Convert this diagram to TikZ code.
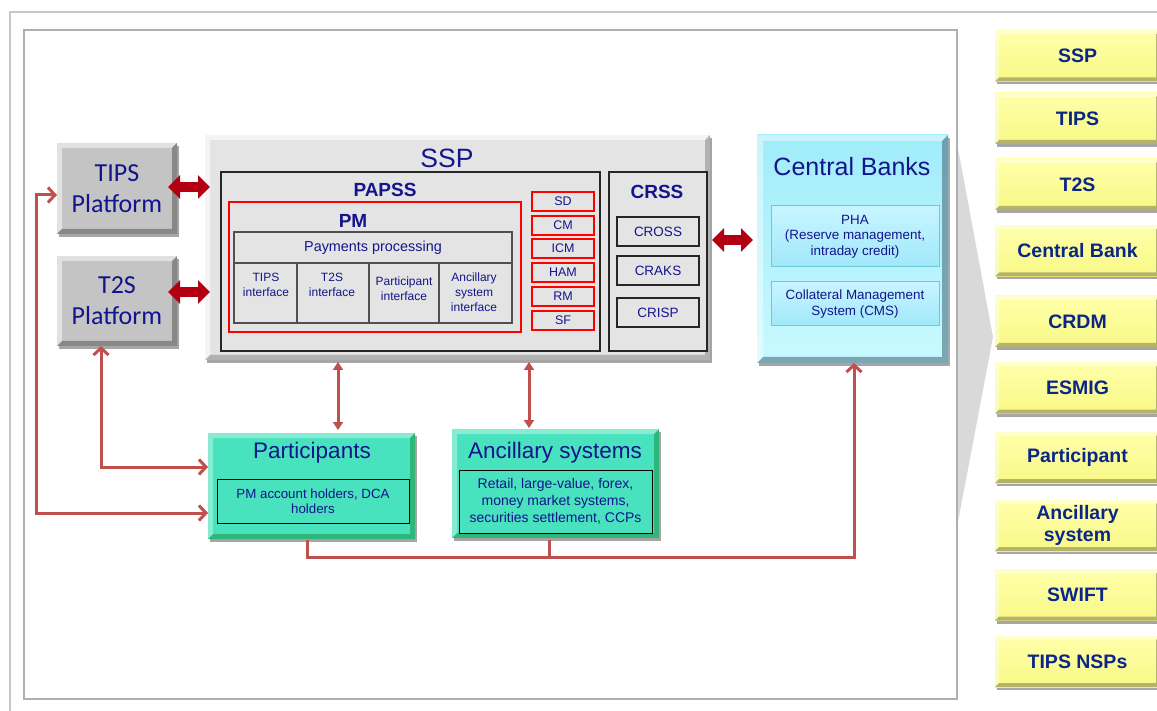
\documentclass[tikz,border=0pt]{standalone}
\usepackage{fontspec}
\setmainfont{Liberation Sans}
\newfontfamily\calfont{Carlito}
\usetikzlibrary{arrows.meta,shadows,calc}
\definecolor{tblue}{RGB}{20,20,140}
\definecolor{rblue}{RGB}{10,38,135}
\definecolor{connred}{RGB}{192,80,77}
\definecolor{blockred}{RGB}{178,0,18}
\definecolor{trapgray}{RGB}{217,217,217}
\definecolor{platfill}{RGB}{196,196,196}
\definecolor{sspfill}{RGB}{228,228,228}
\definecolor{darkline}{RGB}{38,38,38}
\definecolor{cellline}{RGB}{80,80,80}
\definecolor{cbtop}{RGB}{160,236,250}
\definecolor{cbbot}{RGB}{200,250,255}
\definecolor{cbline}{RGB}{110,200,220}
\definecolor{cbintop}{RGB}{200,245,255}
\definecolor{cbinbot}{RGB}{160,232,250}
\definecolor{tealfill}{RGB}{72,226,190}
\definecolor{yfill}{RGB}{248,248,135}
\definecolor{ytop}{RGB}{255,255,170}
\newcommand\fs[2]{\fontsize{#1}{#2}\selectfont}
\newcommand\bev[4]{%
 \fill[#2] (#1.north west) -- (#1.north east) -- ($(#1.north east)+(-#4,#4)$) -- ($(#1.north west)+(#4,#4)$) -- ($(#1.south west)+(#4,-#4)$) -- (#1.south west) -- cycle;
 \fill[#3] (#1.south east) -- (#1.south west) -- ($(#1.south west)+(#4,-#4)$) -- ($(#1.south east)+(-#4,-#4)$) -- ($(#1.north east)+(-#4,#4)$) -- (#1.north east) -- cycle;}
\tikzset{
 every node/.style={inner sep=0pt, outer sep=0pt},
 shad/.style={drop shadow={shadow xshift=2pt, shadow yshift=-3pt, opacity=.35, fill=black}},
 platform/.style={fill=platfill, text=tblue, font=\calfont\fs{26}{31}, align=center, shad},
 sspbox/.style={fill=sspfill, shad},
 darkbox/.style={draw=darkline, line width=2pt, fill=sspfill},
 redbox/.style={draw=red, line width=2pt},
 cell/.style={draw=cellline, line width=2pt, fill=sspfill},
 title/.style={text=tblue, align=center},
 iftxt/.style={text=tblue, align=center, font=\fs{12}{15}},
 smallred/.style={draw=red, line width=2pt, fill=sspfill, text=tblue, font=\fs{12.5}{15}, minimum width=62pt, minimum height=19pt},
 crbox/.style={draw=darkline, line width=2pt, fill=sspfill, text=tblue, font=\fs{13.5}{16}, minimum width=82pt, minimum height=29pt},
 cbbox/.style={top color=cbtop, bottom color=cbbot, shad},
 cbin/.style={draw=cbline, line width=1pt, top color=cbintop, bottom color=cbinbot, text=tblue, align=center, font=\fs{13.4}{15.5}, minimum width=168pt},
 teal/.style={fill=tealfill, shad},
 tealin/.style={draw=black, line width=1pt, text=tblue, align=center},
 ybox/.style={top color=ytop, bottom color=yfill, text=rblue, font=\bfseries\fs{19.5}{22}, align=center, minimum width=165pt, minimum height=51pt, shad},
 conn/.style={draw=connred, line width=3pt},
 barbs/.style={{Straight Barb[length=7pt,width=15pt]}-{Straight Barb[length=7pt,width=15pt]}},
 endbarb/.style={-{Straight Barb[length=7pt,width=15pt]}},
 tris/.style={{Triangle[length=8pt,width=10pt]}-{Triangle[length=8pt,width=10pt]}},
 blockarr/.style={draw=blockred, line width=10pt, {Triangle[length=12pt,width=23pt]}-{Triangle[length=12pt,width=23pt]}}
}
\begin{document}
\begin{tikzpicture}[x=1pt,y=-1pt]
\useasboundingbox (0,0) rectangle (1157,711);
\fill[white] (0,0) rectangle (1157,711);
% grey projection
\fill[trapgray] (957,143) -- (993,337) -- (957,527) -- cycle;
% frames
\draw[draw={rgb,255:red,200;green,200;blue,200}, line width=1.5pt] (10,711) -- (10,12) -- (1157,12);
\draw[draw={rgb,255:red,175;green,175;blue,175}, line width=1.2pt] (24,30) rectangle (957,699);

% right column
\node[ybox] (yssp) at (1077.5,56) {SSP};
\node[ybox] (ytips) at (1077.5,118.5) {TIPS};
\node[ybox] (yt2s) at (1077.5,184.5) {T2S};
\node[ybox] (ycb) at (1077.5,251) {Central Bank};
\node[ybox] (ycrdm) at (1077.5,321.5) {CRDM};
\node[ybox] (yesmig) at (1077.5,388) {ESMIG};
\node[ybox] (ypart) at (1077.5,457.5) {Participant};
\node[ybox] (yanc) at (1077.5,525.5) {Ancillary\\system};
\node[ybox] (yswift) at (1077.5,595) {SWIFT};
\node[ybox] (ynsp) at (1077.5,661.5) {TIPS NSPs};
\foreach \n in {yssp,ytips,yt2s,ycb,ycrdm,yesmig,ypart,yanc,yswift,ynsp}{\bev{\n}{white,opacity=.4}{black!70!yellow,opacity=.45}{4}}

% platforms
\node[platform, minimum width=120pt, minimum height=91pt] (tips) at (117,188.5) {TIPS\\Platform};
\bev{tips}{white,opacity=.5}{black,opacity=.3}{5}
\node[platform, minimum width=120pt, minimum height=90pt] (t2s) at (117,301) {T2S\\Platform};
\bev{t2s}{white,opacity=.5}{black,opacity=.3}{5}

% SSP
\node[sspbox, minimum width=505pt, minimum height=225pt] (ssp) at (457.5,247.5) {};
\bev{ssp}{white,opacity=.6}{black,opacity=.22}{5}
\node[title, font=\fs{26.5}{30}] (ssplbl) at (447,158) {SSP};
\node[darkbox, minimum width=379pt, minimum height=179pt] (papss) at (410.5,261.5) {};
\node[title, font=\bfseries\fs{19}{22}] (papsslbl) at (385,190) {PAPSS};
\node[redbox, minimum width=292pt, minimum height=130pt] (pm) at (375,267) {};
\node[title, font=\bfseries\fs{19}{22}] (pmlbl) at (353,221) {PM};
\node[cell, minimum width=278pt, minimum height=31pt, text=tblue, font=\fs{14.4}{17}] (pp) at (373,247.5) {Payments processing};
\node[cell, minimum width=63pt, minimum height=60pt] (c1) at (265.5,293) {};
\node[cell, minimum width=72pt, minimum height=60pt] (c2) at (333,293) {};
\node[cell, minimum width=70pt, minimum height=60pt] (c3) at (404,293) {};
\node[cell, minimum width=73pt, minimum height=60pt] (c4) at (475.5,293) {};
\node[iftxt] (c1t) at (266,285) {TIPS\\interface};
\node[iftxt] (c2t) at (332,285) {T2S\\interface};
\node[iftxt] (c3t) at (404,288.5) {Participant\\interface};
\node[iftxt] (c4t) at (474,292.5) {Ancillary\\system\\interface};
\node[smallred] (sd) at (563,201.5) {SD};
\node[smallred] (cm) at (563,225.5) {CM};
\node[smallred] (icm) at (563,248.5) {ICM};
\node[smallred] (ham) at (563,272.5) {HAM};
\node[smallred] (rm) at (563,296.5) {RM};
\node[smallred] (sf) at (563,320.5) {SF};
\node[darkbox, minimum width=98pt, minimum height=179pt] (crss) at (658,261.5) {};
\node[title, font=\bfseries\fs{19}{22}] (crsslbl) at (657,192) {CRSS};
\node[crbox] (cross) at (658,231.5) {CROSS};
\node[crbox] (craks) at (658,271) {CRAKS};
\node[crbox] (crisp) at (658,313) {CRISP};

% Central banks
\node[cbbox, minimum width=191pt, minimum height=228pt] (cb) at (852.5,249) {};
\bev{cb}{white,opacity=.45}{black!55!cyan,opacity=.6}{6}
\node[title, font=\fs{25}{29}] (cblbl) at (852,167) {Central Banks};
\node[cbin, minimum height=61pt] (pha) at (855,236.5) {PHA\\(Reserve management,\\intraday credit)};
\node[cbin, minimum height=44pt] (cms) at (855,304) {Collateral Management\\System (CMS)};

% participants / ancillary
\node[teal, minimum width=207pt, minimum height=106pt] (part) at (311.5,486) {};
\bev{part}{white,opacity=.35}{black!60!green,opacity=.35}{5}
\node[title, font=\fs{22.5}{26}] (partlbl) at (312,453) {Participants};
\node[tealin, minimum width=192pt, minimum height=44pt, font=\fs{13.3}{15}] (partin) at (313,501) {PM account holders, DCA\\holders};
\node[teal, minimum width=207pt, minimum height=109pt] (anc) at (555.5,483.5) {};
\bev{anc}{white,opacity=.35}{black!60!green,opacity=.35}{5}
\node[title, font=\fs{22.5}{26}] (anclbl) at (555,453) {Ancillary systems};
\node[tealin, minimum width=193pt, minimum height=63pt, font=\fs{14}{17}] (ancin) at (555.5,501.5) {Retail, large-value, forex,\\money market systems,\\securities settlement, CCPs};

% connectors
\coordinate (k1) at (36,195);
\coordinate (k2) at (36,513);
\coordinate (k3) at (101,467);
\coordinate (v1) at (338,400);
\coordinate (v2) at (529,400);
\coordinate (b1) at (307,557);
\coordinate (b2) at (854,557);
\coordinate (b3) at (549,557);
\draw[conn, barbs, line join=miter] (tips.west |- k1) -- (k1) -- (k2) -- (part.west |- k2);
\draw[conn, barbs, line join=miter] (t2s.south -| k3) -- (k3) -- (part.west |- k3);
\draw[conn, tris] ([yshift=-2pt]ssp.south -| v1) -- ([yshift=3pt]part.north -| v1);
\draw[conn, tris] ([yshift=-2pt]ssp.south -| v2) -- ([yshift=1pt]anc.north -| v2);
\draw[conn, endbarb, line join=miter] ([yshift=-1pt]part.south -| b1) -- (b1) -- (b2) -- (cb.south -| b2);
\draw[conn] ([yshift=-2pt]anc.south -| b3) -- (b3);

% block arrows
\coordinate (ya1) at (0,187);
\coordinate (ya2) at (0,292);
\coordinate (ya3) at (0,240);
\draw[blockarr] ([xshift=-9pt]tips.east |- ya1) -- ([xshift=5pt]ssp.west |- ya1);
\draw[blockarr] ([xshift=-9pt]t2s.east |- ya2) -- ([xshift=5pt]ssp.west |- ya2);
\draw[blockarr] ([xshift=2pt]ssp.east |- ya3) -- ([xshift=-4pt]cb.west |- ya3);
\end{tikzpicture}
\end{document}
